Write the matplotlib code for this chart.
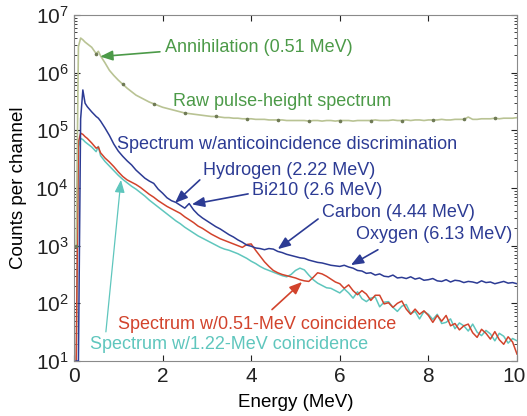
import numpy as np
import matplotlib
matplotlib.use('Agg')
from matplotlib import pyplot as plt
from matplotlib.ticker import FuncFormatter, LogLocator, NullFormatter
from matplotlib.transforms import ScaledTranslation

plt.rcParams['font.family'] = ['Liberation Sans', 'DejaVu Sans']

# channel energies (MeV), shared by all four spectra
energy = [0.05, 0.1, 0.15, 0.2, 0.25, 0.3, 0.4, 0.5, 0.55, 0.6,
          0.7, 0.8, 0.9, 1.0, 1.1, 1.2, 1.3, 1.4, 1.5, 1.6,
          1.7, 1.8, 1.9, 2.0, 2.1, 2.2, 2.3, 2.4, 2.5, 2.6,
          2.7, 2.8, 2.9, 3.0, 3.1, 3.2, 3.3, 3.4, 3.5, 3.6,
          3.7, 3.8, 3.9, 4.0, 4.1, 4.2, 4.3, 4.4, 4.5, 4.6,
          4.7, 4.8, 4.9, 5.0, 5.1, 5.2, 5.3, 5.4, 5.5, 5.6,
          5.7, 5.8, 5.9, 6.0, 6.1, 6.2, 6.3, 6.4, 6.5, 6.6,
          6.7, 6.8, 6.9, 7.0, 7.1, 7.2, 7.3, 7.4, 7.5, 7.6,
          7.7, 7.8, 7.9, 8.0, 8.1, 8.2, 8.3, 8.4, 8.5, 8.6,
          8.7, 8.8, 8.9, 9.0, 9.1, 9.2, 9.3, 9.4, 9.5, 9.6,
          9.7, 9.8, 9.9, 10.0]

# log10(counts per channel)
raw_log = [3.00, 6.45, 6.60, 6.57, 6.53, 6.50, 6.44, 6.33, 6.37, 6.29,
           6.17, 6.04, 5.95, 5.87, 5.80, 5.73, 5.67, 5.61, 5.57, 5.53,
           5.49, 5.46, 5.43, 5.40, 5.38, 5.36, 5.34, 5.32, 5.30, 5.29,
           5.28, 5.27, 5.26, 5.25, 5.24, 5.24, 5.23, 5.22, 5.22, 5.21,
           5.21, 5.20, 5.20, 5.20, 5.19, 5.19, 5.19, 5.18, 5.18, 5.18,
           5.18, 5.17, 5.17, 5.17, 5.17, 5.17, 5.16, 5.17, 5.17, 5.16,
           5.17, 5.17, 5.16, 5.17, 5.17, 5.17, 5.16, 5.17, 5.17, 5.17,
           5.17, 5.18, 5.17, 5.17, 5.17, 5.18, 5.17, 5.17, 5.18, 5.17,
           5.18, 5.18, 5.17, 5.18, 5.18, 5.18, 5.19, 5.18, 5.18, 5.19,
           5.19, 5.19, 5.23, 5.19, 5.19, 5.20, 5.20, 5.20, 5.21, 5.20,
           5.21, 5.21, 5.21, 5.22]

anti_log = [1.00, 1.00, 5.20, 5.70, 5.47, 5.41, 5.32, 5.24, 5.21, 5.16,
            5.04, 4.91, 4.76, 4.64, 4.55, 4.47, 4.40, 4.31, 4.24, 4.17,
            4.12, 4.08, 3.98, 3.91, 3.83, 3.78, 3.75, 3.70, 3.65, 3.73,
            3.62, 3.54, 3.48, 3.43, 3.38, 3.33, 3.29, 3.24, 3.19, 3.15,
            3.10, 3.06, 3.01, 2.99, 2.96, 2.95, 2.93, 2.95, 2.94, 2.90,
            2.88, 2.85, 2.83, 2.81, 2.79, 2.78, 2.75, 2.73, 2.71, 2.70,
            2.68, 2.66, 2.65, 2.64, 2.66, 2.63, 2.61, 2.57, 2.56, 2.52,
            2.53, 2.49, 2.51, 2.47, 2.46, 2.49, 2.44, 2.45, 2.43, 2.46,
            2.42, 2.44, 2.40, 2.41, 2.43, 2.39, 2.38, 2.41, 2.37, 2.40,
            2.39, 2.36, 2.38, 2.37, 2.35, 2.39, 2.36, 2.37, 2.34, 2.36,
            2.38, 2.35, 2.36, 2.34]

coinc051_log = [1.00, 4.80, 4.95, 4.93, 4.89, 4.86, 4.78, 4.69, 4.71, 4.61,
                4.52, 4.45, 4.37, 4.28, 4.20, 4.14, 4.10, 4.06, 4.01, 3.95,
                3.89, 3.84, 3.78, 3.73, 3.68, 3.64, 3.60, 3.56, 3.50, 3.45,
                3.40, 3.34, 3.30, 3.25, 3.20, 3.16, 3.12, 3.09, 3.06, 3.03,
                3.00, 2.97, 3.02, 3.03, 2.92, 2.82, 2.72, 2.64, 2.57, 2.53,
                2.50, 2.48, 2.46, 2.44, 2.41, 2.39, 2.38, 2.45, 2.53, 2.51,
                2.47, 2.42, 2.37, 2.34, 2.26, 2.32, 2.22, 2.15, 2.22, 2.16,
                2.05, 2.14, 2.14, 1.99, 2.01, 1.93, 2.00, 2.04, 1.90, 1.81,
                1.90, 1.81, 1.87, 1.79, 1.67, 1.79, 1.69, 1.79, 1.61, 1.65,
                1.54, 1.61, 1.64, 1.49, 1.41, 1.55, 1.48, 1.38, 1.51, 1.37,
                1.29, 1.42, 1.33, 1.12]

coinc122_log = [1.00, 4.70, 4.86, 4.84, 4.80, 4.77, 4.71, 4.63, 4.72, 4.56,
                4.46, 4.38, 4.30, 4.22, 4.15, 4.09, 4.03, 3.98, 3.92, 3.86,
                3.79, 3.73, 3.67, 3.61, 3.55, 3.49, 3.43, 3.38, 3.32, 3.27,
                3.22, 3.17, 3.13, 3.09, 3.05, 3.01, 2.97, 2.94, 2.92, 2.89,
                2.86, 2.82, 2.78, 2.73, 2.69, 2.64, 2.60, 2.57, 2.54, 2.51,
                2.48, 2.46, 2.50, 2.57, 2.61, 2.58, 2.49, 2.41, 2.35, 2.31,
                2.27, 2.26, 2.22, 2.18, 2.25, 2.18, 2.09, 2.20, 2.08, 2.03,
                2.09, 2.11, 1.94, 2.02, 2.03, 1.93, 1.86, 1.95, 1.98, 1.82,
                1.86, 1.73, 1.86, 1.81, 1.72, 1.81, 1.65, 1.67, 1.73, 1.56,
                1.66, 1.61, 1.52, 1.64, 1.50, 1.44, 1.53, 1.47, 1.35, 1.48,
                1.43, 1.31, 1.39, 1.35]

green_line = '#b9c394'
green_dot = '#6f7a55'
green_txt = '#4c9a48'
blue = '#2c3b94'
red = '#d2432c'
cyan = '#5fc6bd'


def decade_label(v, pos):
    # only label the decades inside the 10^1 .. 10^7 range
    if v < 9 or v > 1.1e7:
        return ''
    return r'$\mathregular{10^{%d}}$' % round(np.log10(v))


fig = plt.figure(figsize=(5.27, 4.16), dpi=100)
ax = fig.add_axes([0.1404, 0.1322, 0.8406, 0.8318])

e = np.array(energy)
ax.plot(e, 10 ** np.array(coinc122_log), color=cyan, lw=1.1)
ax.plot(e, 10 ** np.array(coinc051_log), color=red, lw=1.1)
ax.plot(e, 10 ** np.array(anti_log), color=blue, lw=1.1)
ax.plot(e, 10 ** np.array(raw_log), color=green_line, lw=1.2,
        marker='o', ms=1.6, mfc=green_dot, mec=green_dot, markevery=7)

ax.set_yscale('log')
ax.set_xlim(0, 10)
ax.set_ylim(10, 1e7)
ax.set_xticks([0, 2, 4, 6, 8, 10])
ax.yaxis.set_major_locator(LogLocator(base=10, numticks=10))
ax.yaxis.set_minor_locator(LogLocator(base=10, subs=np.arange(2, 10), numticks=20))
ax.yaxis.set_minor_formatter(NullFormatter())
ax.yaxis.set_major_formatter(FuncFormatter(decade_label))
ax.tick_params(which='both', direction='in', top=True, right=True, labelsize=15, colors='#222222')
ax.tick_params(which='major', length=4, pad=4)
ax.tick_params(which='minor', length=2)
for s in ax.spines.values():
    s.set_color('#8a8a8a')
ax.set_xlabel('Energy (MeV)', fontsize=13.5, labelpad=6)
ax.set_ylabel('Counts per channel', fontsize=13.5, labelpad=6)

# keep the "10" at the right edge inside the canvas
fig.canvas.draw()
last = ax.get_xticklabels()[-1]
last.set_transform(last.get_transform() + ScaledTranslation(-3 / 100, 0, fig.dpi_scale_trans))

fs = 13
ax.text(2.05, 2.7e6, 'Annihilation (0.51 MeV)', color=green_txt, fontsize=fs, va='center')
ax.text(2.23, 3.1e5, 'Raw pulse-height spectrum', color=green_txt, fontsize=fs, va='center')
ax.text(0.97, 5.6e4, 'Spectrum w/anticoincidence discrimination', color=blue, fontsize=fs, va='center')
ax.text(2.91, 2.0e4, 'Hydrogen (2.22 MeV)', color=blue, fontsize=fs, va='center')
ax.text(4.02, 8.9e3, 'Bi210 (2.6 MeV)', color=blue, fontsize=fs, va='center')
ax.text(5.60, 3.7e3, 'Carbon (4.44 MeV)', color=blue, fontsize=fs, va='center')
ax.text(6.37, 1.55e3, 'Oxygen (6.13 MeV)', color=blue, fontsize=fs, va='center')
ax.text(0.99, 43, 'Spectrum w/0.51-MeV coincidence', color=red, fontsize=fs, va='center')
ax.text(0.36, 19, 'Spectrum w/1.22-MeV coincidence', color=cyan, fontsize=fs, va='center')

head = '-|>,head_length=0.5,head_width=0.2'
arrows = [
    ((0.59, 1.9e6), (1.94, 2.3e6), green_txt, 1.2),
    ((2.28, 5.5e3), (2.84, 1.38e4), blue, 1.2),
    ((2.66, 5.2e3), (3.93, 7.9e3), blue, 1.2),
    ((4.60, 8.7e2), (5.51, 2.9e3), blue, 1.2),
    ((6.25, 4.6e2), (6.86, 8.5e2), blue, 1.2),
    ((5.15, 2.35e2), (4.47, 78), red, 1.2),
    ((1.06, 1.38e4), (0.72, 32), cyan, 0.9),
]
for tip, tail, c, lw in arrows:
    ax.annotate('', xy=tip, xytext=tail,
                arrowprops=dict(arrowstyle=head, color=c, lw=lw, mutation_scale=15,
                                shrinkA=0, shrinkB=0))

fig.savefig('out.png', dpi=100)
